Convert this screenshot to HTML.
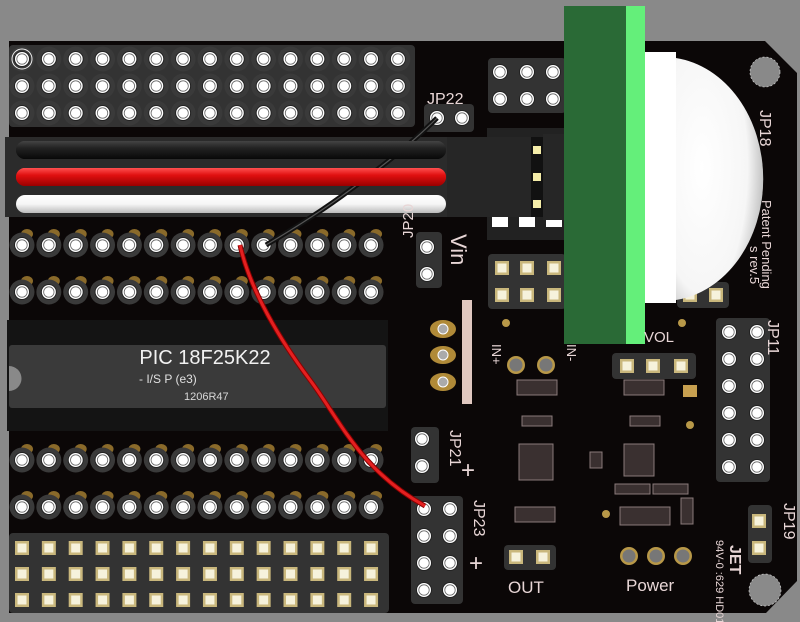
<!DOCTYPE html>
<html><head><meta charset="utf-8">
<style>
html,body{margin:0;padding:0;background:#898989;}
svg{display:block;}
text{font-family:"Liberation Sans",sans-serif;}
</style></head>
<body>
<svg id="s" width="800" height="622" viewBox="0 0 800 622" xmlns="http://www.w3.org/2000/svg">
<defs>
<radialGradient id="dome" cx="0.3" cy="0.45" r="0.8">
<stop offset="0" stop-color="#ffffff"/><stop offset="0.65" stop-color="#f6f6f6"/><stop offset="1" stop-color="#a8a8a8"/>
</radialGradient>
<linearGradient id="wb" x1="0" y1="0" x2="0" y2="1"><stop offset="0" stop-color="#444"/><stop offset="0.4" stop-color="#222"/><stop offset="1" stop-color="#080808"/></linearGradient>
<linearGradient id="wr" x1="0" y1="0" x2="0" y2="1"><stop offset="0" stop-color="#ff5050"/><stop offset="0.4" stop-color="#e01010"/><stop offset="1" stop-color="#900"/></linearGradient>
<linearGradient id="ww" x1="0" y1="0" x2="0" y2="1"><stop offset="0" stop-color="#fff"/><stop offset="0.5" stop-color="#f6f6f6"/><stop offset="1" stop-color="#bbb"/></linearGradient>
</defs>
<rect width="800" height="622" fill="#898989"/>
<polygon points="9,41 765,41 797,73 797,581 766,613 9,613" fill="#0b0707"/>
<g id="g"></g>
<rect x="7" y="320" width="381" height="111" fill="#141414"/>
<rect x="9" y="345" width="377" height="63" rx="3" fill="#3a3a3a"/>
<path d="M9,366 a12,12 0 0 1 0,25 z" fill="#898989"/>
<text x="205" y="364" font-size="20" fill="#f2f2f2" text-anchor="middle">PIC 18F25K22</text>
<text x="139" y="383" font-size="12" fill="#e0e0e0">- I/S P (e3)</text>
<text x="184" y="400" font-size="11" fill="#d8d8d8">1206R47</text>
<rect x="5" y="137" width="442" height="80" fill="#2b2b2b"/>
<rect x="16" y="141" width="430" height="18" rx="9" fill="url(#wb)"/>
<rect x="16" y="168" width="430" height="18" rx="9" fill="url(#wr)"/>
<rect x="16" y="195" width="430" height="18" rx="9" fill="url(#ww)"/>
<path d="M266,245 C300,225 330,205 350,190 C380,168 410,145 437,118" stroke="#111" stroke-width="5" fill="none"/>
<path d="M266,245 C300,225 330,205 350,190 C380,168 410,145 437,118" stroke="#555" stroke-width="1.2" fill="none"/>
<rect x="16" y="168" width="430" height="18" rx="9" fill="url(#wr)"/>
<rect x="16" y="141" width="430" height="18" rx="9" fill="url(#wb)"/>
<rect x="487" y="128" width="80" height="112" fill="#222"/>
<rect x="492" y="215" width="16" height="12" fill="#fff"/><rect x="519" y="215" width="16" height="12" fill="#fff"/><rect x="546" y="215" width="16" height="12" fill="#fff"/>
<rect x="447" y="137" width="84" height="80" fill="#262626"/>
<rect x="531" y="137" width="12" height="80" fill="#111"/>
<rect x="533" y="146" width="8" height="8" fill="#f4eca8"/><rect x="533" y="173" width="8" height="8" fill="#f4eca8"/><rect x="533" y="200" width="8" height="8" fill="#f4eca8"/>
<rect x="543" y="134" width="30" height="86" fill="#262626"/>
<rect x="564" y="6" width="63" height="338" fill="#2a6a36"/>
<rect x="626" y="6" width="19" height="338" fill="#64ef7a"/>
<rect x="645" y="52" width="31" height="251" fill="#fff"/>
<path d="M676,58 A100,122 0 0 1 676,300 Z" fill="url(#dome)"/>
<path d="M240,245 C250,290 280,340 310,380 C340,420 360,470 425,506" stroke="#8a0000" stroke-width="5" fill="none"/>
<path d="M240,245 C250,290 280,340 310,380 C340,420 360,470 425,506" stroke="#e42020" stroke-width="3" fill="none"/>
<circle cx="765" cy="72" r="15" fill="#898989" stroke="#ccc" stroke-width="0.7" stroke-dasharray="2,2"/>
<circle cx="765" cy="590" r="16" fill="#8a8a8a" stroke="#ccc" stroke-width="0.7" stroke-dasharray="2,2"/>
<g fill="#e8d6d6" font-size="16">
<text x="427" y="104">JP22</text>
<text transform="translate(760,110) rotate(90)">JP18</text>
<text transform="translate(413,238) rotate(-90)" font-size="15">JP20</text>
<text transform="translate(451,234) rotate(90)" font-size="22">Vin</text>
<text transform="translate(768,320) rotate(90)">JP11</text>
<text transform="translate(450,430) rotate(90)">JP21</text>
<text transform="translate(474,500) rotate(90)">JP23</text>
<text transform="translate(784,503) rotate(90)">JP19</text>
<text x="508" y="593" font-size="17">OUT</text>
<text x="626" y="591" font-size="17">Power</text>
<text x="644" y="342" font-size="15">VOL</text>
<text transform="translate(492,344) rotate(90)" font-size="13">IN+</text>
<text transform="translate(567,344) rotate(90)" font-size="13">IN-</text>
<text transform="translate(762,200) rotate(90)" font-size="13">Patent Pending</text>
<text transform="translate(750,246) rotate(90)" font-size="13">s rev.5</text>
<text transform="translate(716,540) rotate(90)" font-size="11">94V-0 :629 HD01</text>
<text transform="translate(730,545) rotate(90)" font-size="16" font-weight="bold">JET</text>
<text x="461" y="478" font-size="24">+</text>
<text x="469" y="571" font-size="24">+</text>
</g>
</svg>
<script>
var NS="http://www.w3.org/2000/svg",g=document.getElementById("g");
function el(t,a){var e=document.createElementNS(NS,t);for(var k in a)e.setAttribute(k,a[k]);g.appendChild(e);return e;}
function pin(x,y){el("circle",{cx:x,cy:y,r:12.5,fill:"#3a3a3a"});}
function hole(x,y){el("circle",{cx:x,cy:y,r:7.5,fill:"#fff",stroke:"#222","stroke-width":1});el("circle",{cx:x,cy:y,r:5.2,fill:"#fff",stroke:"#666","stroke-width":0.8});}
function sq(x,y){el("rect",{x:x-7,y:y-7,width:14,height:14,fill:"#c9b77c"});el("rect",{x:x-4.5,y:y-4.5,width:9,height:9,fill:"#f6f2dc"});}
function strip(x,y,w,h){el("rect",{x:x,y:y,width:w,height:h,rx:4,fill:"#333"});}
var P=26.85;
function cx(i){return 22+P*i;}
strip(9,45,406,82);
for(var r=0;r<3;r++)for(var i=0;i<15;i++){pin(cx(i),59+27*r);}
for(var r=0;r<3;r++)for(var i=0;i<15;i++)hole(cx(i),59+27*r);
[245,292,460,507].forEach(function(y){
 for(var i=0;i<14;i++){el("ellipse",{cx:cx(i)+5,cy:y-11,rx:6,ry:5,fill:"#8a6a2a"});}
 for(var i=0;i<14;i++)pin(cx(i),y);
 for(var i=0;i<14;i++)hole(cx(i),y);
});
for(var i=0;i<14;i++){el("rect",{x:cx(i)-6,y:331,width:12,height:13,fill:"#f4eeee"});el("rect",{x:cx(i)-6,y:409,width:12,height:13,fill:"#f4eeee"});}
strip(9,533,380,80);
for(var r=0;r<3;r++)for(var i=0;i<14;i++)sq(cx(i),548+26*r);
strip(488,58,78,55);
[500,527,553].forEach(function(x){[72,99].forEach(function(y){hole(x,y);});});
strip(424,104,50,28);hole(437,118);hole(462,118);
strip(416,232,26,56);hole(427,247);hole(427,274);
strip(488,254,78,55);
[502,527,554].forEach(function(x){[268,295].forEach(function(y){sq(x,y);});});
strip(677,282,52,26);sq(690,295);sq(716,295);
strip(716,318,54,164);
for(var r=0;r<6;r++){hole(729,332+27*r);hole(757,332+27*r);}
strip(411,427,28,56);hole(422,439);hole(422,466);
strip(411,496,52,108);
for(var r=0;r<4;r++){hole(424,509+27*r);hole(450,509+27*r);}
strip(504,545,52,25);sq(516,557);sq(543,557);
strip(612,353,84,26);sq(627,366);sq(653,366);sq(681,366);
strip(748,505,24,58);sq(759,521);sq(759,548);
[329,355,382].forEach(function(y){el("ellipse",{cx:443,cy:y,rx:13,ry:9,fill:"#b08a38"});el("circle",{cx:443,cy:y,r:5,fill:"#aaa",stroke:"#fff","stroke-width":1});});
el("rect",{x:462,y:300,width:10,height:104,fill:"#e0c8c0"});
[[516,365],[546,365],[629,556],[656,556],[683,556]].forEach(function(p){el("circle",{cx:p[0],cy:p[1],r:9,fill:"#b89848"});el("circle",{cx:p[0],cy:p[1],r:6.5,fill:"#777"});});
[[517,380,40,15],[624,380,40,15],[522,416,30,10],[630,416,30,10],[519,444,34,36],[590,452,12,16],[624,444,30,32],[615,484,35,10],[653,484,35,10],[515,507,40,15],[620,507,50,18],[681,498,12,26]].forEach(function(b){el("rect",{x:b[0],y:b[1],width:b[2],height:b[3],fill:"#3a3030",stroke:"#8a7a7a","stroke-width":1});});
el("rect",{x:683,y:385,width:14,height:12,fill:"#c8a050"});
[[506,323],[682,323],[690,425],[606,514]].forEach(function(p){el("circle",{cx:p[0],cy:p[1],r:4,fill:"#b89848"});});
el("circle",{cx:22,cy:59,r:10,fill:"none",stroke:"#eee","stroke-width":1});
</script>
</body></html>
